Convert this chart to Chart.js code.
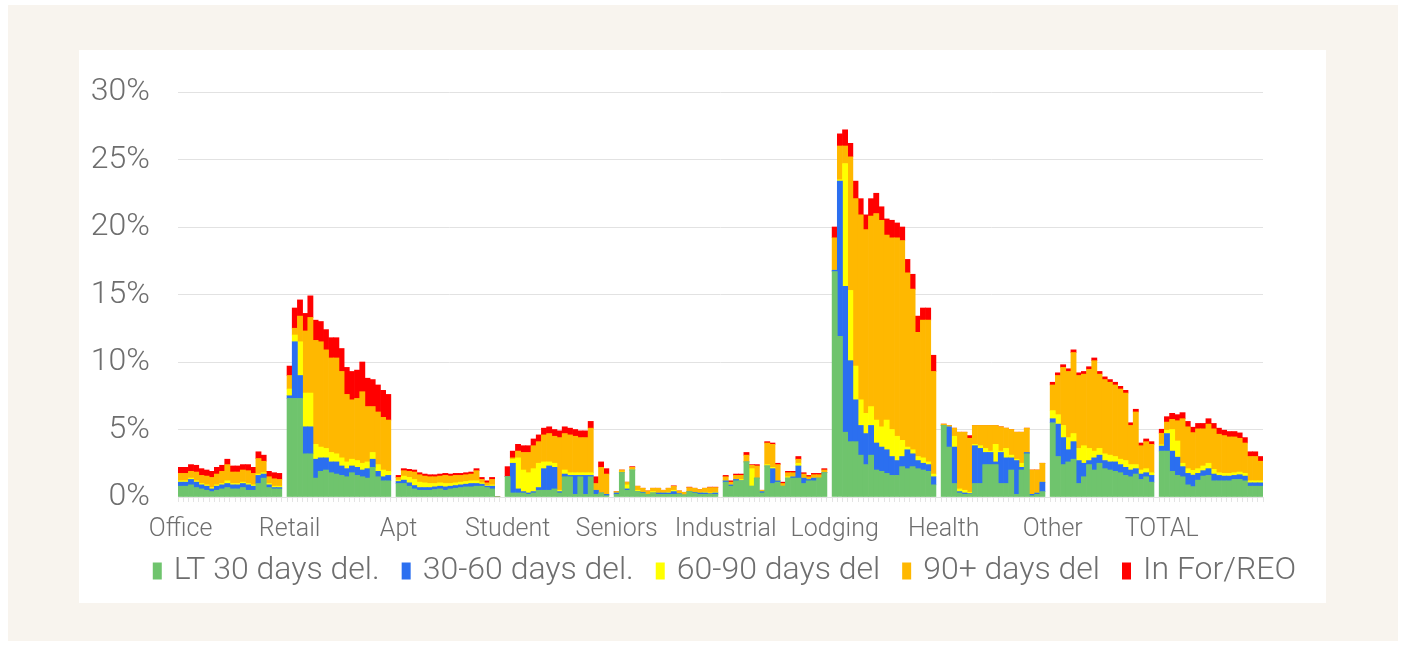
<!DOCTYPE html>
<html><head><meta charset="utf-8">
<script src="https://cdn.jsdelivr.net/npm/chart.js@4.4.1/dist/chart.umd.min.js"></script>
<style>
html,body{margin:0;padding:0;background:#fff;width:1405px;height:646px;overflow:hidden;}
#frame{position:absolute;left:8px;top:5px;width:1390px;height:636px;background:#f8f4ee;}
#panel{position:absolute;left:79px;top:50px;width:1247px;height:553px;background:#fff;}
canvas{position:absolute;left:0;top:0;}
</style></head><body>
<div id="frame"></div><div id="panel"></div>
<canvas id="c" width="1405" height="646"></canvas>
<script>
// Property types (each has 20 periods)
const groups = ['Office','Retail','Apt','Student','Seniors','Industrial','Lodging','Health','Other','TOTAL'];
const seriesNames = ['LT 30 days del.','30-60 days del.','60-90 days del','90+ days del','In For/REO'];
const yTicks = [0,5,10,15,20,25,30];

// values in % ; 20 per group, groups in the order above
const lt30 = [
 0.8,0.8,0.9,0.7,0.6,0.5,0.4,0.5,0.6,0.7,0.6,0.6,0.7,0.5,0.5,1.0,1.4,0.7,0.6,0.6,
 7.3,7.3,7.3,3.2,3.2,1.4,1.9,2.0,1.8,1.7,1.6,1.5,1.8,1.6,1.5,1.4,2.2,1.5,1.2,1.2,
 1.0,1.0,0.8,0.6,0.5,0.5,0.5,0.55,0.6,0.5,0.6,0.65,0.7,0.75,0.75,0.8,0.8,0.7,0.6,0,
 1.5,0.3,0.3,0.3,0.2,0.3,0.5,0.5,0.5,0.6,0.3,1.5,1.5,0.2,1.5,0.2,1.5,0.2,0.3,0.1,
 0.2,1.8,0.5,2.0,0.4,0.3,0.2,0.3,0.2,0.2,0.2,0.2,0.2,0.15,0.4,0.3,0.2,0.2,0.2,0.2,
 1.1,0.8,1.2,1.2,2.6,0.8,1.4,0.3,2.3,1.0,1.1,0.8,1.4,1.4,1.4,1.0,1.2,1.2,1.4,1.8,
 16.7,11.9,4.8,4.1,4.1,3.1,2.4,3.1,2.0,1.9,1.75,1.6,1.6,2.25,2.1,2.25,2.1,2.0,1.9,0.9,
 5.3,3.7,1.0,0.3,0.2,0.2,1.0,1.0,2.4,2.4,2.4,1.0,1.0,2.0,0.2,2.0,3.2,0.1,0.2,0.4,
 5.5,3.0,2.4,2.6,2.8,1.0,1.5,2.4,2.0,2.5,2.1,2.0,1.9,1.8,1.6,1.5,1.7,1.3,1.5,1.1,
 3.4,3.4,1.9,1.6,1.5,0.9,0.77,1.25,1.55,1.6,1.2,1.2,1.2,1.2,1.3,1.3,1.2,0.8,0.8,0.8
];
const d30to60 = [
 0.3,0.3,0.4,0.4,0.3,0.3,0.2,0.3,0.3,0.3,0.3,0.3,0.3,0.4,0.3,0.6,0.3,0.2,0.1,0.1,
 0.2,4.2,1.7,2.0,2.0,1.4,1.0,0.9,0.8,0.9,0.7,0.6,0.5,0.6,0.5,0.7,0.6,0.4,0.3,0.4,
 0.15,0.25,0.25,0.25,0.2,0.2,0.2,0.2,0.2,0.25,0.2,0.2,0.2,0.2,0.25,0.2,0.15,0.1,0.2,0,
 0,2.2,0.3,0.1,0.1,0.1,0.2,1.6,1.8,1.6,0.1,0.2,0.1,1.4,0.1,1.4,0.1,0.3,0,0.1,
 0.1,0,0.1,0,0,0.05,0,0,0.1,0.1,0.1,0.2,0.05,0,0,0.05,0.1,0.1,0.05,0.1,
 0.1,0.1,0.1,0,0,0,0,0.1,0,1.1,0.1,0,0,0.1,0.9,0.4,0.1,0.2,0,0,
 0.1,11.5,10.8,6.0,3.1,2.2,2.3,2.2,2.0,1.8,1.75,1.4,1.1,0.75,1.4,0.95,0.6,0.5,0.5,0.6,
 0,1.5,2.7,0.1,0.1,0.05,2.8,2.6,0.9,0.9,0.2,2.3,1.9,0.9,2.5,0.2,0.1,0.1,0.1,0.7,
 0.3,2.4,2.0,0.9,1.3,1.7,1.0,0.3,0.9,0.6,0.6,0.6,0.7,0.6,0.6,0.5,0.4,0.4,0.3,0.5,
 0.37,1.3,1.5,1.35,0.75,0.85,0.85,0.5,0.4,0.5,0.5,0.4,0.35,0.35,0.3,0.35,0.35,0.25,0.25,0.25
];
const d60to90 = [
 0.1,0.1,0.1,0.1,0.1,0.1,0.1,0.1,0.1,0.2,0.1,0.1,0.1,0.1,0.1,0.1,0.1,0.1,0.1,0.1,
 0.5,0.5,2.5,2.5,2.5,1.1,0.8,0.7,0.7,0.6,0.6,0.5,0.5,0.5,0.5,0.5,0.5,0.5,0.5,0.3,
 0.1,0.3,0.4,0.45,0.4,0.35,0.3,0.25,0.25,0.25,0.2,0.2,0.2,0.2,0.2,0.2,0.1,0.05,0.1,0,
 0,0.3,2.3,1.6,1.5,1.7,1.8,0.5,0.3,0.3,0.1,0.3,0.2,0.2,0.2,0.2,0.2,0,0,0,
 0,0.05,0.3,0.05,0.1,0,0,0.1,0,0,0.05,0.1,0,0,0,0,0,0.05,0.05,0.05,
 0,0,0,0.1,0,1.3,0,0,0.1,0.1,0,0,0.1,0,0.2,0,0,0,0,0,
 0,0.1,9.1,5.2,2.5,1.9,1.5,1.4,1.7,1.5,2.2,2.0,1.8,1.2,0.2,0.3,0.3,0.4,0.2,0.2,
 0,0,0.8,0.2,0.2,0.1,0.1,0.2,0.3,0.1,1.3,0.1,0.7,0.2,0.1,0.3,0,0,0,0,
 0.6,0.7,0.9,0.9,0.6,0.9,1.3,0.9,0.5,0.5,0.5,0.5,0.4,0.4,0.5,0.4,0.3,0.3,0.3,0.2,
 0.1,0.25,1.6,1.2,0.25,0.35,0.35,0.35,0.35,0.4,0.35,0.2,0.2,0.2,0.2,0.2,0.2,0.15,0.15,0.15
];
const d90plus = [
 0.55,0.55,0.5,0.65,0.6,0.65,0.75,0.8,0.9,1.2,0.85,0.85,0.9,0.95,0.85,1.15,0.85,0.5,0.55,0.5,
 1.0,0.5,1.9,4.6,5.6,7.7,7.8,7.3,7.0,7.1,6.4,5.0,4.4,4.6,5.3,4.1,3.4,3.9,3.9,3.8,
 0.2,0.4,0.45,0.55,0.55,0.5,0.5,0.5,0.5,0.6,0.55,0.55,0.5,0.5,0.5,0.75,0.25,0.2,0.4,0,
 0,0.1,0.5,1.3,1.5,1.7,1.6,2.0,2.1,2.0,3.9,2.7,2.8,2.7,2.6,2.6,3.3,0.5,1.9,1.5,
 0.1,0.15,0.2,0.15,0.3,0.3,0.25,0.25,0.35,0.2,0.3,0.3,0.2,0.2,0.3,0.3,0.25,0.3,0.4,0.35,
 0.3,0.2,0.3,0.3,0.5,0.25,0.9,0.1,1.6,1.7,1.2,0.2,0.3,0.3,0.3,0.3,0.2,0.25,0.25,0.2,
 2.4,2.5,1.3,9.9,12.4,13.7,13.6,14.1,15.3,15.3,13.7,14.2,14.7,14.8,12.9,11.9,9.2,10.2,10.5,7.6,
 0.1,0.1,0.6,4.2,4.3,4.0,1.4,1.5,1.7,1.9,1.4,1.8,1.5,1.9,2.0,2.3,1.8,1.8,1.7,1.4,
 1.9,2.9,4.3,4.9,6.0,5.4,5.3,5.85,6.7,5.5,5.5,5.4,5.3,5.2,5.0,2.9,3.9,1.8,2.0,2.1,
 0.85,0.6,0.75,1.5,3.3,3.1,2.8,2.95,2.75,2.9,3.0,2.85,2.8,2.7,2.65,2.5,2.25,1.8,1.8,1.45
];
const inForReo = [
 0.45,0.45,0.5,0.5,0.5,0.45,0.45,0.5,0.45,0.4,0.45,0.45,0.4,0.45,0.45,0.5,0.45,0.4,0.45,0.45,
 0.7,1.5,1.2,1.3,1.6,1.5,1.5,1.5,1.5,1.5,1.7,2.0,2.1,2.1,2.2,2.1,2.0,2.0,2.0,1.9,
 0.15,0.15,0.15,0.15,0.15,0.15,0.15,0.15,0.15,0.15,0.15,0.15,0.15,0.15,0.15,0.15,0.15,0.15,0.15,0,
 0.75,0.5,0.5,0.5,0.5,0.5,0.5,0.5,0.5,0.5,0.5,0.5,0.5,0.5,0.5,0.5,0.5,0.5,0.4,0.4,
 0,0,0,0.05,0,0,0,0,0,0,0,0.03,0,0,0.03,0,0,0,0.03,0.03,
 0.1,0.1,0.1,0.1,0.2,0.05,0.1,0,0.1,0.1,0.1,0.1,0.1,0.1,0.2,0.1,0.1,0.1,0.1,0.1,
 0.8,0.9,1.2,1.0,1.3,1.2,1.1,1.3,1.5,1.0,1.2,1.3,1.1,1.0,1.0,1.1,1.2,0.9,0.9,1.2,
 0,0,0,0,0,0.2,0,0,0,0,0,0,0,0,0,0,0,0,0,0,
 0.2,0.2,0.2,0.2,0.2,0.2,0.2,0.2,0.2,0.2,0.2,0.2,0.2,0.2,0.2,0.2,0.2,0.2,0.2,0.2,
 0.3,0.4,0.45,0.45,0.45,0.4,0.4,0.4,0.4,0.4,0.4,0.45,0.4,0.4,0.4,0.4,0.4,0.35,0.35,0.35
];
const seriesColors = ['#6fc46d','#2b6ff0','#ffff00','#ffb800','#ff0000'];

// build slot layout: 20 bars per group followed by one empty slot
const PER = 20;
const labels = [];
groups.forEach((g, gi) => {
  for (let i = 0; i < PER; i++) labels.push(i === 0 ? g : '');
  if (gi < groups.length - 1) labels.push('');
});
function slots(arr) {
  const out = [];
  groups.forEach((g, gi) => {
    for (let i = 0; i < PER; i++) out.push(arr[gi * PER + i]);
    if (gi < groups.length - 1) out.push(null);
  });
  return out;
}
const seriesData = [lt30, d30to60, d60to90, d90plus, inForReo];

const txt = '#6e6e6e';
new Chart(document.getElementById('c'), {
  type: 'bar',
  data: {
    labels,
    datasets: seriesData.map((arr, i) => ({
      label: seriesNames[i], data: slots(arr), backgroundColor: seriesColors[i],
      borderWidth: 0, barPercentage: 1, categoryPercentage: 1
    }))
  },
  options: {
    responsive: false, animation: false, devicePixelRatio: 1,
    layout: { padding: { left: 48, top: 92, right: 0, bottom: 49 } },
    scales: {
      x: {
        stacked: true,
        grid: { display: true, drawOnChartArea: false, drawTicks: true, tickLength: 5, color: '#e4e4e4' },
        border: { display: false },
        ticks: { autoSkip: false, maxRotation: 0, minRotation: 0, padding: 13, color: txt,
                 font: { family: 'Roboto', size: 25, weight: '300' } },
        afterFit: s => { s.height = 32; s._computeLabelArea = () => undefined; }
      },
      y: {
        stacked: true, min: 0, max: 30,
        afterBuildTicks: s => { s.ticks = yTicks.map(v => ({ value: v })); },
        grid: { color: '#e2e2e2', lineWidth: 1, drawTicks: false },
        border: { display: false },
        ticks: { padding: 28, color: txt, callback: v => v + '%',
                 font: { family: 'Roboto', size: 32, weight: '300' } },
        afterFit: s => { s.width = 130; }
      },
      yRight: {
        position: 'right', display: true,
        grid: { display: false }, border: { display: false }, ticks: { display: false },
        afterFit: s => { s.width = 142; }
      }
    },
    plugins: {
      tooltip: { enabled: false },
      legend: {
        position: 'bottom',
        labels: {
          boxWidth: 1, boxHeight: 9, padding: 26, color: txt,
          font: { family: 'Roboto', size: 32, weight: '300' },
          generateLabels: chart => {
            const items = Chart.defaults.plugins.legend.labels.generateLabels(chart);
            items.forEach(it => { it.lineWidth = 8; it.strokeStyle = it.fillStyle; it.lineJoin = 'miter'; });
            return items;
          }
        }
      }
    }
  }
});
</script>
</body></html>
